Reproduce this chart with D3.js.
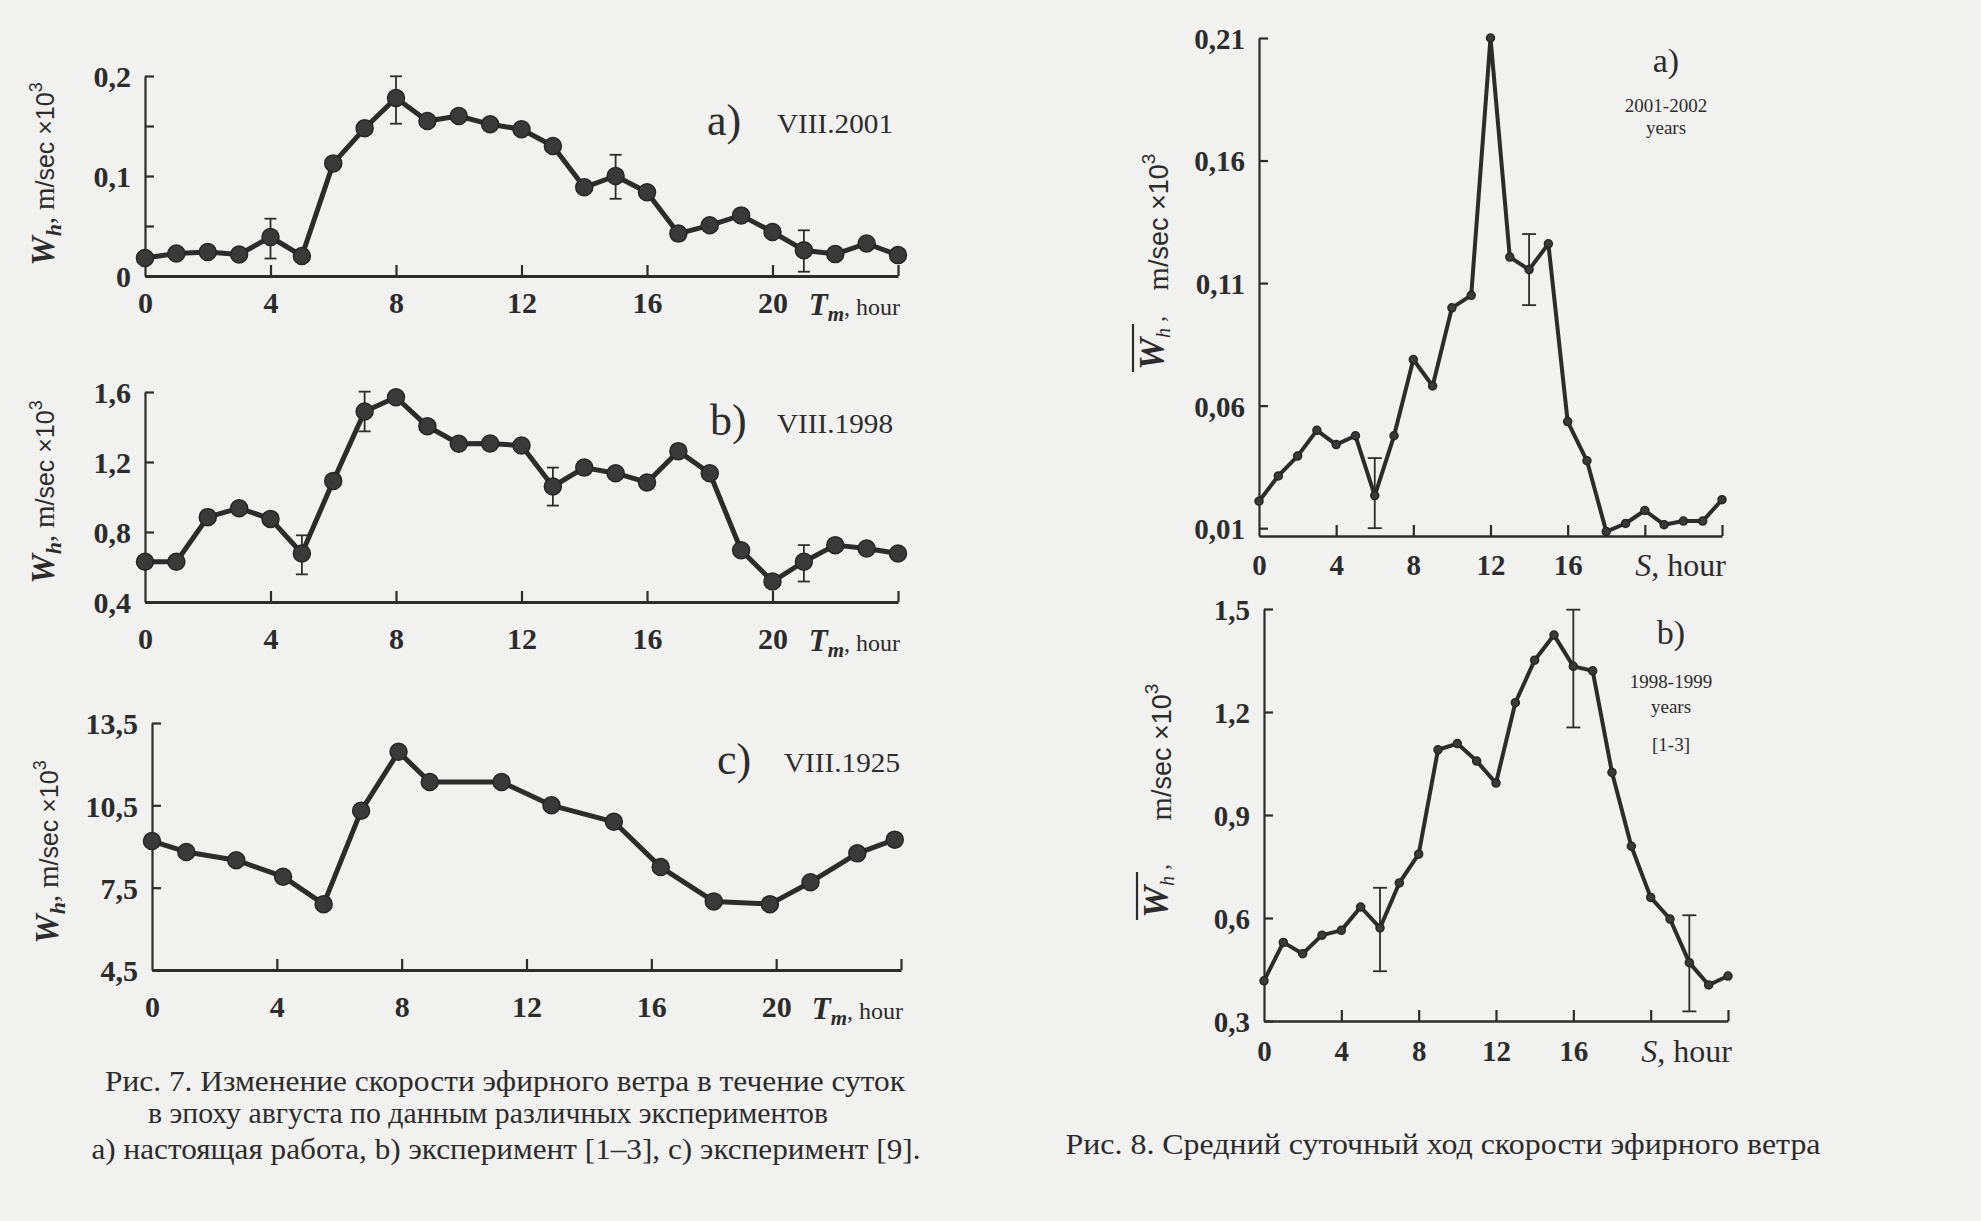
<!DOCTYPE html>
<html>
<head>
<meta charset="utf-8">
<script src="https://cdn.jsdelivr.net/npm/d3@7"></script>
<style>
  body { margin: 0; background: #f1f1ef; }
  svg { display: block; }
</style>
</head>
<body>
<aether-figures></aether-figures>
<script>
// ---- data ----
const hours = [0, 1, 2, 3, 4, 5, 6, 7, 8, 9, 10, 11, 12, 13, 14, 15, 16, 17, 18, 19, 20, 21, 22, 23, 24];

// Fig. 7a  VIII.2001
const aug2001 = [0.018, 0.0225, 0.024, 0.0215, 0.039, 0.020, 0.1126, 0.1477, 0.178, 0.155, 0.160, 0.1517, 0.1467,
  0.130, 0.0887, 0.100, 0.0838, 0.0424, 0.0507, 0.0606, 0.044, 0.0258, 0.0219, 0.0325, 0.0209];
const aug2001Err = [[4, 0.0175, 0.0573], [8, 0.1523, 0.1997], [15, 0.0772, 0.1212], [21, 0.0043, 0.0457]];

// Fig. 7b  VIII.1998
const aug1998 = [0.63, 0.63, 0.885, 0.936, 0.875, 0.677, 1.092, 1.489, 1.57, 1.404, 1.304, 1.306, 1.294,
  1.06, 1.168, 1.136, 1.083, 1.262, 1.136, 0.696, 0.517, 0.63, 0.725, 0.706, 0.677];
const aug1998Err = [[5, 0.558, 0.781], [7, 1.375, 1.602], [13, 0.951, 1.168], [21, 0.517, 0.725]];

// Fig. 7c  VIII.1925 (irregular hours)
const hours1925 = [0, 1.1, 2.7, 4.2, 5.5, 6.7, 7.9, 8.9, 11.2, 12.8, 14.8, 16.3, 18.0, 19.8, 21.1, 22.6, 23.8];
const aug1925 = [9.2, 8.8, 8.5, 7.9, 6.9, 10.3, 12.45, 11.35, 11.35, 10.5, 9.9, 8.25, 7.0, 6.9, 7.7, 8.75, 9.25];

// Fig. 8a  2001-2002 years
const years2001 = [0.021, 0.0313, 0.0394, 0.0499, 0.0441, 0.0477, 0.0233, 0.0477, 0.0788, 0.068, 0.0999, 0.105, 0.21,
  0.1206, 0.1155, 0.126, 0.0535, 0.0375, 0.0086, 0.0119, 0.0172, 0.0114, 0.0129, 0.0129, 0.0216];
const years2001Err = [[6, 0.010, 0.0386], [14, 0.101, 0.130]];

// Fig. 8b  1998-1999 years
const years1998 = [0.417, 0.529, 0.496, 0.55, 0.564, 0.632, 0.571, 0.702, 0.786, 1.09, 1.108, 1.057, 0.993,
  1.227, 1.351, 1.424, 1.333, 1.32, 1.024, 0.809, 0.66, 0.597, 0.47, 0.405, 0.431];
const years1998Err = [[6, 0.445, 0.688], [16, 1.155, 1.498], [22, 0.328, 0.608]];

// axis ticks and labels
const xTicks = [4, 8, 12, 16, 20, 24];
const xLabels7 = ["0", "4", "8", "12", "16", "20"];
const xLabels8 = ["0", "4", "8", "12", "16"];
const yTicks7a = [0, 0.05, 0.1, 0.15, 0.2];
const yLabels7a = ["0", "0,1", "0,2"];
const yTicks7b = [0.4, 0.8, 1.2, 1.6];
const yLabels7b = ["0,4", "0,8", "1,2", "1,6"];
const yTicks7c = [4.5, 7.5, 10.5, 13.5];
const yLabels7c = ["4,5", "7,5", "10,5", "13,5"];
const yTicks8a = [0.01, 0.06, 0.11, 0.16, 0.21];
const yLabels8a = ["0,01", "0,06", "0,11", "0,16", "0,21"];
const yTicks8b = [0.3, 0.6, 0.9, 1.2, 1.5];
const yLabels8b = ["0,3", "0,6", "0,9", "1,2", "1,5"];

const captions7 = [
  "Рис. 7. Изменение скорости эфирного ветра в течение суток",
  "в эпоху августа по данным различных экспериментов",
  "а) настоящая работа, b) эксперимент [1–3], c) эксперимент [9]."
];
const caption8 = "Рис. 8. Средний суточный ход скорости эфирного ветра";

class AetherFigures extends HTMLElement {
  connectedCallback() {
    const ink = "#2c2c2c";
    this.theme = {
      ink: ink,
      serif: "'Liberation Serif', 'DejaVu Serif', serif",
      sans: "'Liberation Sans', Arial, sans-serif"
    };

    const svg = d3.select(this).append("svg")
      .attr("width", 1981)
      .attr("height", 1221)
      .style("background", "#f1f1ef");
    this.svg = svg;

    // -- Fig. 7 --
    this.drawPanel({
      x: [145, 898], y: [276, 76], yDomain: [0, 0.2],
      yTicks: yTicks7a, yLabelValues: [0, 0.1, 0.2], yLabels: yLabels7a,
      xLabels: xLabels7, xPad: 16, unit: "T", big: true,
      series: hours.map((h, i) => [h, aug2001[i]]), errors: aug2001Err,
      tag: "a)", tagPos: [707, 135], epoch: "VIII.2001", epochPos: [777, 133],
      yTitle: [44, 174]
    });
    this.drawPanel({
      x: [145, 898], y: [602, 392], yDomain: [0.4, 1.6],
      yTicks: yTicks7b, yLabelValues: yTicks7b, yLabels: yLabels7b,
      xLabels: xLabels7, xPad: 26, unit: "T", big: true,
      series: hours.map((h, i) => [h, aug1998[i]]), errors: aug1998Err,
      tag: "b)", tagPos: [710, 435], epoch: "VIII.1998", epochPos: [777, 433],
      yTitle: [44, 492]
    });
    this.drawPanel({
      x: [152, 901], y: [970, 723], yDomain: [4.5, 13.5],
      yTicks: yTicks7c, yLabelValues: yTicks7c, yLabels: yLabels7c,
      xLabels: xLabels7, xPad: 26, unit: "T", big: true,
      series: hours1925.map((h, i) => [h, aug1925[i]]), errors: [],
      tag: "c)", tagPos: [717, 774], epoch: "VIII.1925", epochPos: [784, 772],
      yTitle: [48, 852]
    });

    // -- Fig. 8 --
    this.drawPanel({
      x: [1259, 1722], y: [536, 38], yDomain: [0.0068, 0.21],
      yTicks: yTicks8a, yLabelValues: yTicks8a, yLabels: yLabels8a,
      xLabels: xLabels8, xPad: 18, unit: "S", big: false,
      series: hours.map((h, i) => [h, years2001[i]]), errors: years2001Err,
      tag: "a)", tagPos: [1666, 72], note: ["2001-2002", "years"], notePos: [1666, 112], noteGap: [22],
      titleW: [1152, 343], titleU: [1159, 222]
    });
    this.drawPanel({
      x: [1264, 1728], y: [1021, 609], yDomain: [0.3, 1.5],
      yTicks: yTicks8b, yLabelValues: yTicks8b, yLabels: yLabels8b,
      xLabels: xLabels8, xPad: 19, unit: "S", big: false,
      series: hours.map((h, i) => [h, years1998[i]]), errors: years1998Err,
      tag: "b)", tagPos: [1671, 644], note: ["1998-1999", "years", "[1-3]"], notePos: [1671, 688], noteGap: [25, 38],
      titleW: [1156, 891], titleU: [1162, 752]
    });

    this.drawCaptions();
  }

  drawPanel = (cfg) => {
    const t = this.theme;
    const g = this.svg.append("g");
    const x = d3.scaleLinear().domain([0, 24]).range(cfg.x);
    const y = d3.scaleLinear().domain(cfg.yDomain).range(cfg.y);
    const tickFont = cfg.big ? 30 : 29;

    // y axis: inward ticks, labels only where printed
    const yAxis = d3.axisLeft(y)
      .tickValues(cfg.yTicks)
      .tickSizeInner(-9)
      .tickSizeOuter(0)
      .tickPadding(14)
      .tickFormat((d) => {
        const k = cfg.yLabelValues.findIndex((v) => Math.abs(v - d) < 1e-9);
        return k >= 0 ? cfg.yLabels[k] : "";
      });
    const ya = g.append("g")
      .attr("transform", `translate(${cfg.x[0]},0)`)
      .call(yAxis);

    // x axis: ticks pointing up
    const xAxis = d3.axisBottom(x)
      .tickValues(xTicks)
      .tickSizeInner(-11)
      .tickSizeOuter(0)
      .tickFormat("");
    const xa = g.append("g")
      .attr("transform", `translate(0,${cfg.y[0]})`)
      .call(xAxis);

    // x tick labels
    const xl = d3.axisBottom(x)
      .tickValues(cfg.xLabels.map(Number))
      .tickSize(0)
      .tickPadding(cfg.xPad)
      .tickFormat((d, i) => cfg.xLabels[i]);
    const xla = g.append("g")
      .attr("transform", `translate(0,${cfg.y[0]})`)
      .call(xl);
    xla.select(".domain").remove();

    [ya, xa, xla].forEach((a) => {
      a.selectAll("path, line").attr("stroke", t.ink).attr("stroke-width", 2.2);
      a.selectAll("text")
        .attr("fill", t.ink)
        .style("font-family", t.serif)
        .style("font-weight", "bold")
        .style("font-size", tickFont + "px");
    });
    xa.select(".domain").attr("stroke-width", cfg.big ? 3 : 2.4);
    ya.selectAll(".tick text").attr("dy", "0.36em");

    // axis unit  "T_m, hour" / "S, hour"
    const ux = cfg.x[1] + (cfg.big ? 2 : 4);
    const uy = cfg.y[0] + cfg.xPad + tickFont * 0.76;
    const unit = g.append("text")
      .attr("x", ux).attr("y", uy)
      .attr("text-anchor", "end")
      .attr("fill", t.ink)
      .style("font-family", t.serif);
    if (cfg.unit === "T") {
      unit.append("tspan").text("T").style("font-style", "italic").style("font-weight", "bold").style("font-size", "31px");
      unit.append("tspan").text("m").attr("dy", 6).style("font-style", "italic").style("font-weight", "bold").style("font-size", "21px");
      unit.append("tspan").text(", hour").attr("dy", -6).style("font-size", "24px");
    } else {
      unit.append("tspan").text("S").style("font-style", "italic").style("font-size", "32px");
      unit.append("tspan").text(", hour").style("font-size", "32px");
    }

    // error bars
    const cap = cfg.big ? 6 : 7;
    const eb = g.append("g").attr("stroke", t.ink).attr("stroke-width", 1.8);
    cfg.errors.forEach(([h, lo, hi]) => {
      eb.append("line").attr("x1", x(h)).attr("x2", x(h)).attr("y1", y(lo)).attr("y2", y(hi));
      eb.append("line").attr("x1", x(h) - cap).attr("x2", x(h) + cap).attr("y1", y(lo)).attr("y2", y(lo));
      eb.append("line").attr("x1", x(h) - cap).attr("x2", x(h) + cap).attr("y1", y(hi)).attr("y2", y(hi));
    });

    // the curve
    const line = d3.line().x((d) => x(d[0])).y((d) => y(d[1]));
    g.append("path")
      .datum(cfg.series)
      .attr("d", line)
      .attr("fill", "none")
      .attr("stroke", t.ink)
      .attr("stroke-width", cfg.big ? 5 : 4)
      .attr("stroke-linejoin", "round");

    g.selectAll(".dot")
      .data(cfg.series)
      .enter()
      .append("circle")
      .attr("class", "dot")
      .attr("cx", (d) => x(d[0]))
      .attr("cy", (d) => y(d[1]))
      .attr("r", cfg.big ? 8.5 : 4)
      .attr("fill", "#3a3a3a")
      .attr("stroke", "#262626")
      .attr("stroke-width", 1.5);

    // panel tag and epoch
    g.append("text")
      .attr("x", cfg.tagPos[0]).attr("y", cfg.tagPos[1])
      .attr("text-anchor", cfg.big ? "start" : "middle")
      .attr("fill", t.ink)
      .style("font-family", t.serif)
      .style("font-size", cfg.big ? "44px" : "34px")
      .text(cfg.tag);
    if (cfg.epoch) {
      g.append("text")
        .attr("x", cfg.epochPos[0]).attr("y", cfg.epochPos[1])
        .attr("fill", t.ink)
        .attr("textLength", 116)
        .attr("lengthAdjust", "spacingAndGlyphs")
        .style("font-family", t.serif)
        .style("font-size", "27px")
        .text(cfg.epoch);
    }
    if (cfg.note) {
      let ny = cfg.notePos[1];
      cfg.note.forEach((s, i) => {
        if (i > 0) ny += cfg.noteGap[i - 1];
        g.append("text")
          .attr("x", cfg.notePos[0]).attr("y", ny)
          .attr("text-anchor", "middle")
          .attr("fill", t.ink)
          .style("font-family", t.serif)
          .style("font-size", "19px")
          .text(s);
      });
    }

    if (cfg.big) this.drawYTitle7(cfg);
    else this.drawYTitle8(cfg);
  };

  drawYTitle7 = (cfg) => {
    const t = this.theme;
    const g = this.svg.append("g")
      .attr("transform", `translate(${cfg.yTitle[0]},${cfg.yTitle[1]}) rotate(-90)`);
    const txt = g.append("text").attr("text-anchor", "middle").attr("y", 10).attr("fill", t.ink);
    txt.append("tspan").text("W").style("font-family", t.serif).style("font-style", "italic").style("font-weight", "bold").style("font-size", "33px");
    txt.append("tspan").text("h").attr("dy", 7).style("font-family", t.serif).style("font-style", "italic").style("font-weight", "bold").style("font-size", "22px");
    txt.append("tspan").text(", ").attr("dy", -7).style("font-family", t.serif).style("font-size", "28px");
    txt.append("tspan").text("m").style("font-family", t.serif).style("font-size", "29px");
    txt.append("tspan").text("/sec ×10").style("font-family", t.sans).style("font-size", "25px");
    txt.append("tspan").text("3").attr("dy", -12).style("font-family", t.sans).style("font-size", "18px");
  };

  drawYTitle8 = (cfg) => {
    const t = this.theme;
    // W-bar at the bottom
    const gw = this.svg.append("g")
      .attr("transform", `translate(${cfg.titleW[0]},${cfg.titleW[1]}) rotate(-90)`);
    const w = gw.append("text").attr("y", 12).attr("text-anchor", "middle").attr("fill", t.ink);
    w.append("tspan").text("W").style("font-family", t.serif).style("font-style", "italic").style("font-weight", "bold").style("font-size", "36px");
    w.append("tspan").text("h").attr("dy", 6).style("font-family", t.serif).style("font-style", "italic").style("font-size", "20px");
    w.append("tspan").text(" ,").attr("dy", -6).style("font-family", t.serif).style("font-size", "24px");
    const b = w.node().getBBox();
    gw.append("line")
      .attr("x1", b.x - 2).attr("x2", b.x + b.width - 8)
      .attr("y1", b.y + 1).attr("y2", b.y + 1)
      .attr("stroke", t.ink).attr("stroke-width", 2.2);

    // units further up
    const gu = this.svg.append("g")
      .attr("transform", `translate(${cfg.titleU[0]},${cfg.titleU[1]}) rotate(-90)`);
    const u = gu.append("text").attr("y", 9).attr("text-anchor", "middle").attr("fill", t.ink);
    u.append("tspan").text("m").style("font-family", t.serif).style("font-size", "30px");
    u.append("tspan").text("/sec  ×10").style("font-family", t.sans).style("font-size", "27px");
    u.append("tspan").text("3").attr("dy", -13).style("font-family", t.sans).style("font-size", "19px");
  };

  drawCaptions = () => {
    const t = this.theme;
    const lines = [
      { x: 505, y: 1091, len: 800 },
      { x: 488, y: 1123, len: 680 },
      { x: 506, y: 1159, len: 829 }
    ];
    captions7.forEach((s, i) => {
      this.svg.append("text")
        .attr("x", lines[i].x).attr("y", lines[i].y)
        .attr("text-anchor", "middle")
        .attr("textLength", lines[i].len)
        .attr("lengthAdjust", "spacingAndGlyphs")
        .attr("fill", t.ink)
        .style("font-family", t.serif)
        .style("font-size", "29px")
        .text(s);
    });
    this.svg.append("text")
      .attr("x", 1443).attr("y", 1154)
      .attr("text-anchor", "middle")
      .attr("textLength", 755)
      .attr("lengthAdjust", "spacingAndGlyphs")
      .attr("fill", t.ink)
      .style("font-family", t.serif)
      .style("font-size", "29px")
      .text(caption8);
  };
}

customElements.define("aether-figures", AetherFigures);
</script>
</body>
</html>
